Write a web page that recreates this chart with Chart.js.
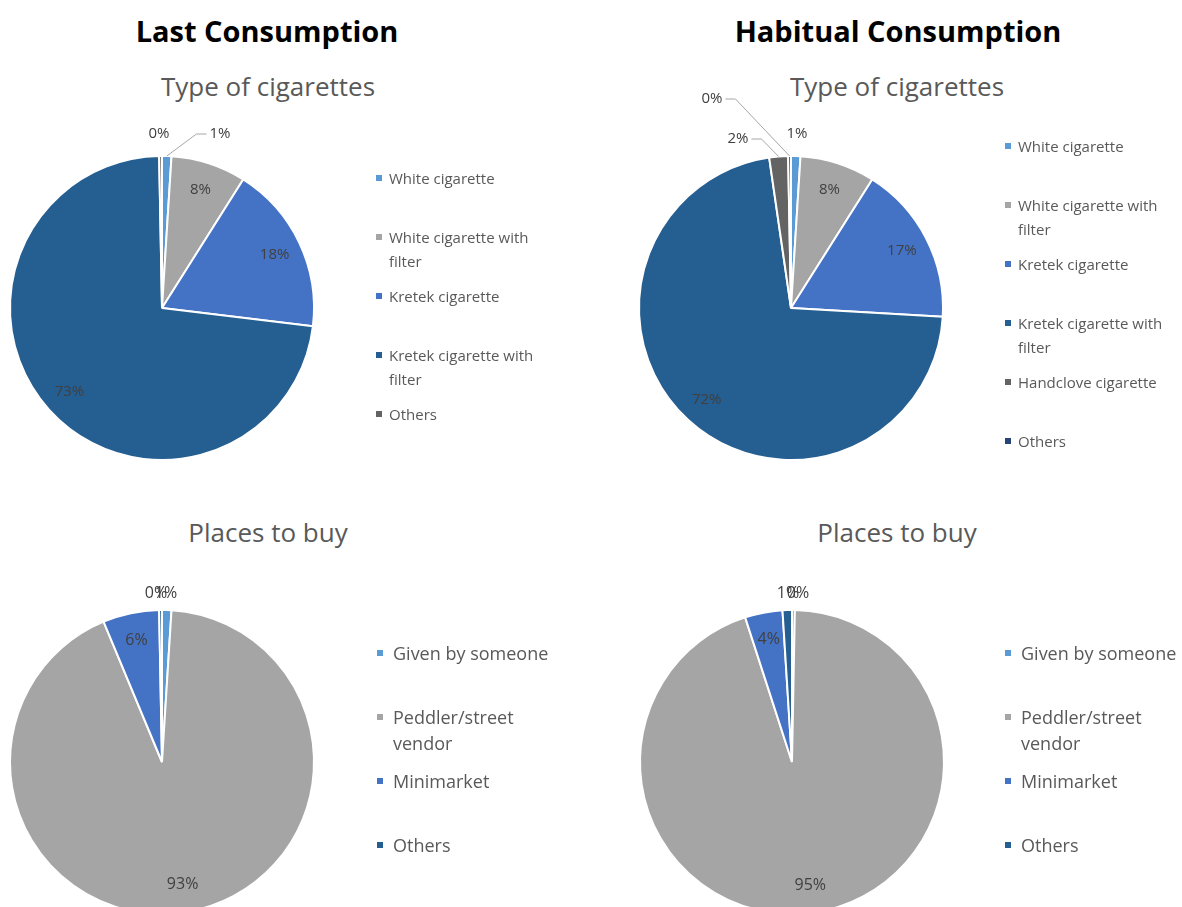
<!DOCTYPE html>
<html>
<head>
<meta charset="utf-8">
<script src="https://cdn.jsdelivr.net/npm/chart.js@4.4.1/dist/chart.umd.min.js"></script>
<style>
  html, body { margin: 0; padding: 0; background: #fff; }
  body { width: 1182px; height: 907px; position: relative; overflow: hidden; font-family: "Open Sans", sans-serif; }
  .txt { position: absolute; transform: translate(-50%, -50%); white-space: nowrap; }
  .title { font-size: 29px; font-weight: bold; color: #000; }
  .sub { font-size: 26px; color: #595959; }
  canvas { position: absolute; }
  .legend { position: absolute; color: #595959; }
  .item { position: relative; }
  .item span.mk { position: absolute; width: 6px; height: 6px; }
</style>
</head>
<body>
<div class="txt title" style="left:267px; top:30px;">Last Consumption</div>
<div class="txt title" style="left:898px; top:30px;">Habitual Consumption</div>
<div class="txt sub" style="left:268px; top:86px;">Type of cigarettes</div>
<div class="txt sub" style="left:897px; top:86px;">Type of cigarettes</div>
<div class="txt sub" style="left:268px; top:532px;">Places to buy</div>
<div class="txt sub" style="left:897px; top:532px;">Places to buy</div>

<canvas id="c1" width="440" height="480"></canvas>
<canvas id="c2" width="440" height="480"></canvas>
<canvas id="c3" width="440" height="480"></canvas>
<canvas id="c4" width="440" height="480"></canvas>

<div class="legend" id="l1"></div>
<div class="legend" id="l2"></div>
<div class="legend" id="l3"></div>
<div class="legend" id="l4"></div>

<script>
// categories
const lastTypeLabels = ['White cigarette', 'White cigarette with filter', 'Kretek cigarette', 'Kretek cigarette with filter', 'Others'];
const habitTypeLabels = ['White cigarette', 'White cigarette with filter', 'Kretek cigarette', 'Kretek cigarette with filter', 'Handclove cigarette', 'Others'];
const placeLabels = ['Given by someone', 'Peddler/street vendor', 'Minimarket', 'Others'];

// values (percent; 0% slices given a sliver)
const lastTypeValues = [1, 8, 18, 73, 0.3];
const habitTypeValues = [1, 8, 17, 72, 2, 0.3];
const lastPlaceValues = [1, 93, 6, 0.3];
const habitPlaceValues = [0.3, 95, 4, 1];

const lastTypeColors = ['#5B9BD5', '#A5A5A5', '#4472C4', '#255E91', '#636363'];
const habitTypeColors = ['#5B9BD5', '#A5A5A5', '#4472C4', '#255E91', '#636363', '#264478'];
const placeColors = ['#5B9BD5', '#A5A5A5', '#4472C4', '#255E91'];

// percentage labels: inside for big slices, outside (with leader) for small ones
const pctLabels = {
  id: 'pctLabels',
  afterDatasetsDraw(chart, args, opts) {
    const ctx = chart.ctx;
    const meta = chart.getDatasetMeta(0);
    const vals = chart.data.datasets[0].data;
    const total = vals.reduce((a, b) => a + b, 0);
    ctx.save();
    ctx.font = opts.size + 'px "Open Sans", sans-serif';
    ctx.textAlign = 'center';
    ctx.textBaseline = 'middle';
    meta.data.forEach((arc, i) => {
      const p = arc.getProps(['x', 'y', 'startAngle', 'endAngle', 'outerRadius'], true);
      const pct = vals[i] / total * 100;
      const text = Math.round(pct) + '%';
      const mid = (p.startAngle + p.endAngle) / 2;
      let lx, ly;
      if (pct >= 3) {
        lx = p.x + Math.cos(mid) * p.outerRadius * 0.82;
        ly = p.y + Math.sin(mid) * p.outerRadius * 0.82;
      } else {
        const off = (opts.outside && opts.outside[i]) || [0, -p.outerRadius - 20];
        lx = p.x + off[0];
        ly = p.y + off[1];
        const ax = p.x + Math.cos(mid) * p.outerRadius;
        const ay = p.y + Math.sin(mid) * p.outerRadius;
        if (Math.hypot(lx - ax, ly - ay) > 28) {
          const w = ctx.measureText(text).width;
          const ex = lx < ax ? lx + w / 2 + 3 : lx - w / 2 - 3;
          const kx = lx < ax ? ex + 10 : ex - 10;
          ctx.strokeStyle = '#A6A6A6';
          ctx.lineWidth = 1;
          ctx.beginPath();
          ctx.moveTo(ax, ay);
          ctx.lineTo(kx, ly);
          ctx.lineTo(ex, ly);
          ctx.stroke();
        }
      }
      ctx.fillStyle = '#404040';
      ctx.fillText(text, lx, ly);
    });
    ctx.restore();
  }
};

function makePie(id, cx, cy, labels, values, colors, size, outside) {
  const el = document.getElementById(id);
  el.style.left = (cx - el.width / 2) + 'px';
  el.style.top = (cy - el.height / 2) + 'px';
  return new Chart(el, {
    type: 'pie',
    data: {
      labels: labels,
      datasets: [{
        data: values,
        backgroundColor: colors,
        borderColor: '#ffffff',
        borderWidth: 2,
        hoverOffset: 0,
        radius: 152
      }]
    },
    options: {
      responsive: false,
      animation: false,
      events: [],
      plugins: {
        legend: { display: false },
        tooltip: { enabled: false },
        pctLabels: { outside: outside, size: size }
      }
    },
    plugins: [pctLabels]
  });
}

function makeLegend(id, left, firstLineY, slot, lineH, fontSize, width, labels, colors) {
  const box = document.getElementById(id);
  box.style.left = left + 'px';
  box.style.top = (firstLineY - lineH / 2) + 'px';
  box.style.width = width + 'px';
  box.style.fontSize = fontSize + 'px';
  box.style.lineHeight = lineH + 'px';
  labels.forEach((lab, i) => {
    const d = document.createElement('div');
    d.className = 'item';
    d.style.height = slot + 'px';
    d.style.paddingLeft = (fontSize - 2) + 'px';
    const mk = document.createElement('span');
    mk.className = 'mk';
    mk.style.left = '0px';
    mk.style.top = (lineH / 2 - 3) + 'px';
    mk.style.background = colors[i];
    d.appendChild(mk);
    d.appendChild(document.createTextNode(lab));
    box.appendChild(d);
  });
}

makePie('c1', 162, 308, lastTypeLabels, lastTypeValues, lastTypeColors, 15,
  { 0: [58, -174], 4: [-3, -174] });
makePie('c2', 791, 308, habitTypeLabels, habitTypeValues, habitTypeColors, 15,
  { 0: [6, -174], 4: [-53, -169], 5: [-79, -209] });
makePie('c3', 162, 762, placeLabels, lastPlaceValues, placeColors, 16,
  { 0: [4, -169], 3: [-6, -169] });
makePie('c4', 792, 762, placeLabels, habitPlaceValues, placeColors, 16,
  { 0: [6, -169], 3: [-4, -169] });

makeLegend('l1', 376, 178, 59, 24, 15, 185, lastTypeLabels, lastTypeColors);
makeLegend('l2', 1005, 146, 59, 24, 15, 180, habitTypeLabels, habitTypeColors);
makeLegend('l3', 377, 653, 64, 26, 18, 180, placeLabels, placeColors);
makeLegend('l4', 1005, 653, 64, 26, 18, 180, placeLabels, placeColors);
</script>
</body>
</html>
